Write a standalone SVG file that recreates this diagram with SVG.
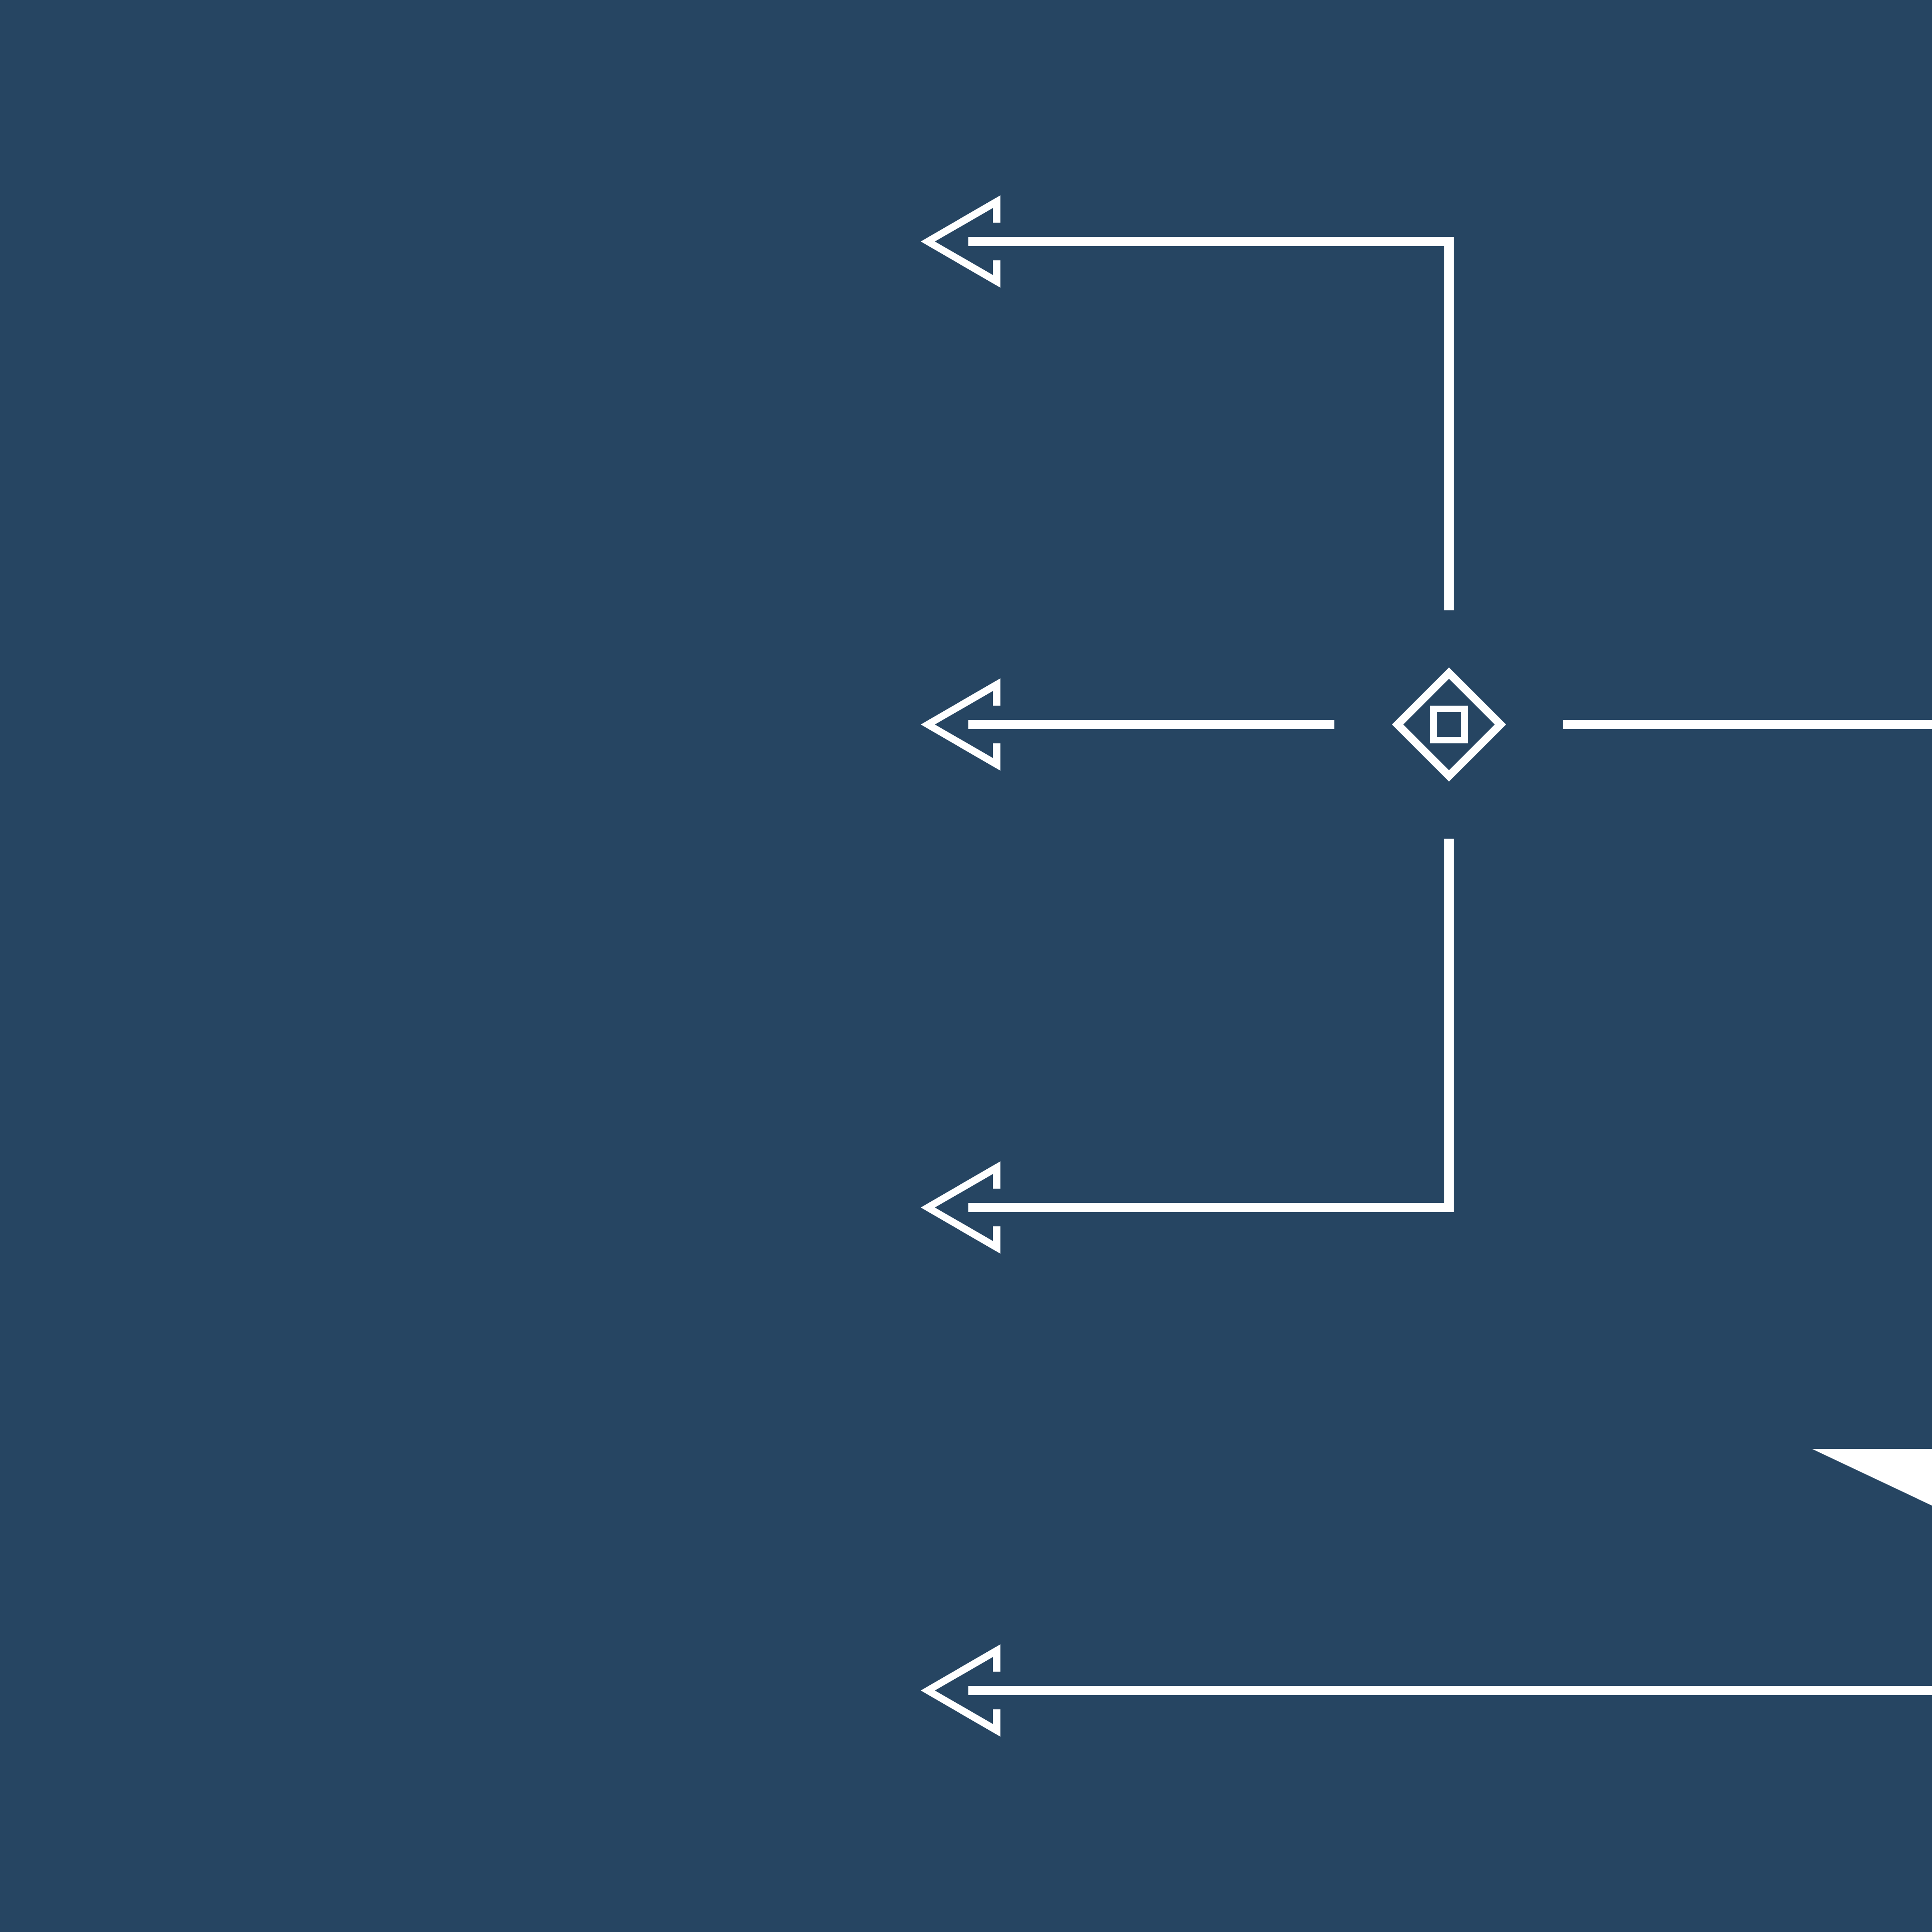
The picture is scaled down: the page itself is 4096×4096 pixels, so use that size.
<svg xmlns="http://www.w3.org/2000/svg" width="4096" height="4096" viewBox="0 0 4096 4096">
<style>
.bg{fill:#264562}
.ln{fill:none;stroke:#ffffff;stroke-width:20;stroke-linejoin:miter;stroke-linecap:butt}
.head{fill:#ffffff}
.sym{fill:none;stroke:#ffffff;stroke-linejoin:miter}
</style>
<defs>
<path id="arrow" class="head" d="M0 0 L169 -98 L169 -40 L153 -40 L153 -71 L30 0 L153 71 L153 40 L169 40 L169 98 Z"/>
</defs>
<rect class="bg" x="0" y="0" width="4096" height="4096"/>
<g id="connectors">
<path class="ln" d="M2053 512 H3072 V1294"/>
<path class="ln" d="M2053 1536 H2829"/>
<path class="ln" d="M3314 1536 H4096"/>
<path class="ln" d="M3072 1778 V2560 H2053"/>
<path class="ln" d="M2053 3584 H4096"/>
<use href="#arrow" x="1952" y="512"/>
<use href="#arrow" x="1952" y="1536"/>
<use href="#arrow" x="1952" y="2560"/>
<use href="#arrow" x="1952" y="3584"/>
</g>
<g id="gateway">
<path class="sym" stroke-width="17" d="M3072 1427 L3181 1536 L3072 1645 L2963 1536 Z"/>
<rect class="sym" stroke-width="14" x="3039" y="1503" width="66" height="66"/>
</g>
<g id="shape">
<polygon class="head" points="3842,3072 4096,3072 4096,3192"/>
</g>
</svg>
